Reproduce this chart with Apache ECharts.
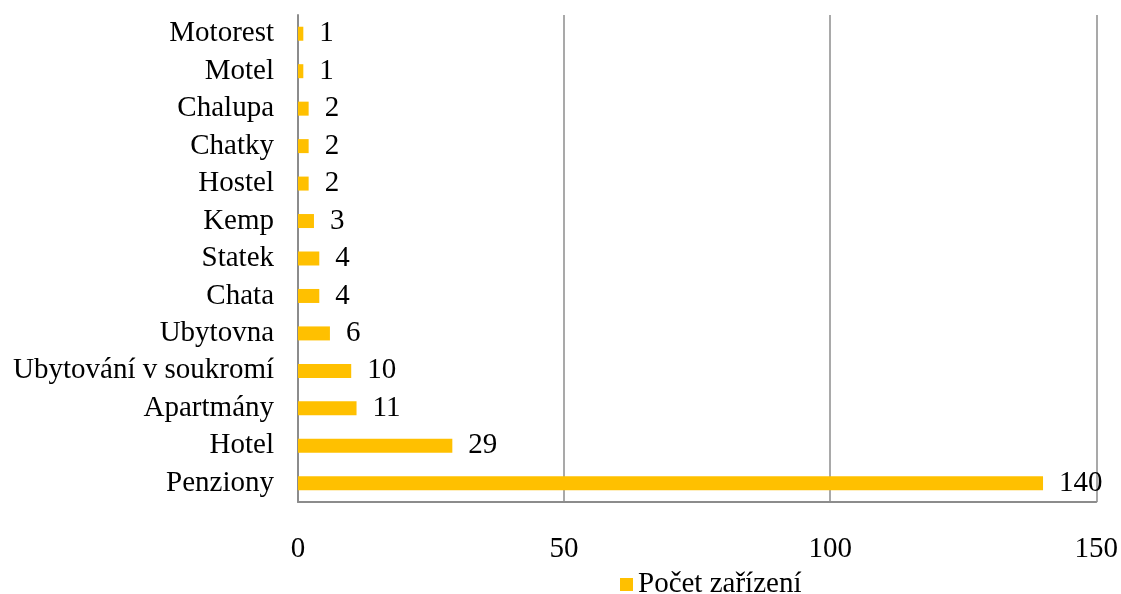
<!DOCTYPE html>
<html><head><meta charset="utf-8">
<script src="https://cdn.jsdelivr.net/npm/echarts@6/dist/echarts.min.js"></script>
<style>html,body{margin:0;padding:0;background:#fff}#c{width:1121px;height:594px}</style>
</head><body><div id="c"></div>
<script>
const categories = ["Penziony","Hotel","Apartmány","Ubytování v soukromí","Ubytovna","Chata","Statek","Kemp","Hostel","Chatky","Chalupa","Motel","Motorest"];
const values = [140,29,11,10,6,4,4,3,2,2,2,1,1];
const xTicks = [0,50,100,150];
const seriesName = "Počet zařízení";
const font = "Liberation Serif";
const fs = 29;
const chart = echarts.init(document.getElementById('c'));
chart.setOption({
  animation:false,
  textStyle:{fontFamily:font},
  grid:{left:298,right:24,top:15,bottom:92,containLabel:false},
  legend:{top:565,left:615,itemWidth:13,itemHeight:13,icon:'rect',itemGap:6,
    textStyle:{fontFamily:font,fontSize:fs,color:'#000'},data:[seriesName]},
  xAxis:{type:'value',min:xTicks[0],max:xTicks[xTicks.length-1],interval:50,
    axisLine:{show:true,lineStyle:{color:'#8c8c8c',width:2}},axisTick:{show:false},
    splitLine:{show:true,lineStyle:{color:'#8c8c8c',width:1.5}},
    axisLabel:{fontFamily:font,fontSize:fs,color:'#000',margin:33}},
  yAxis:{type:'category',data:categories,
    axisLine:{show:true,lineStyle:{color:'#8c8c8c',width:2}},axisTick:{show:false},
    axisLabel:{fontFamily:font,fontSize:fs,color:'#000',margin:24,interval:0}},
  series:[{name:seriesName,type:'bar',data:values,barWidth:14,
    itemStyle:{color:'#FFC000'},
    label:{show:true,position:'right',distance:16,fontFamily:font,fontSize:fs,color:'#000'}}]
});
</script></body></html>
